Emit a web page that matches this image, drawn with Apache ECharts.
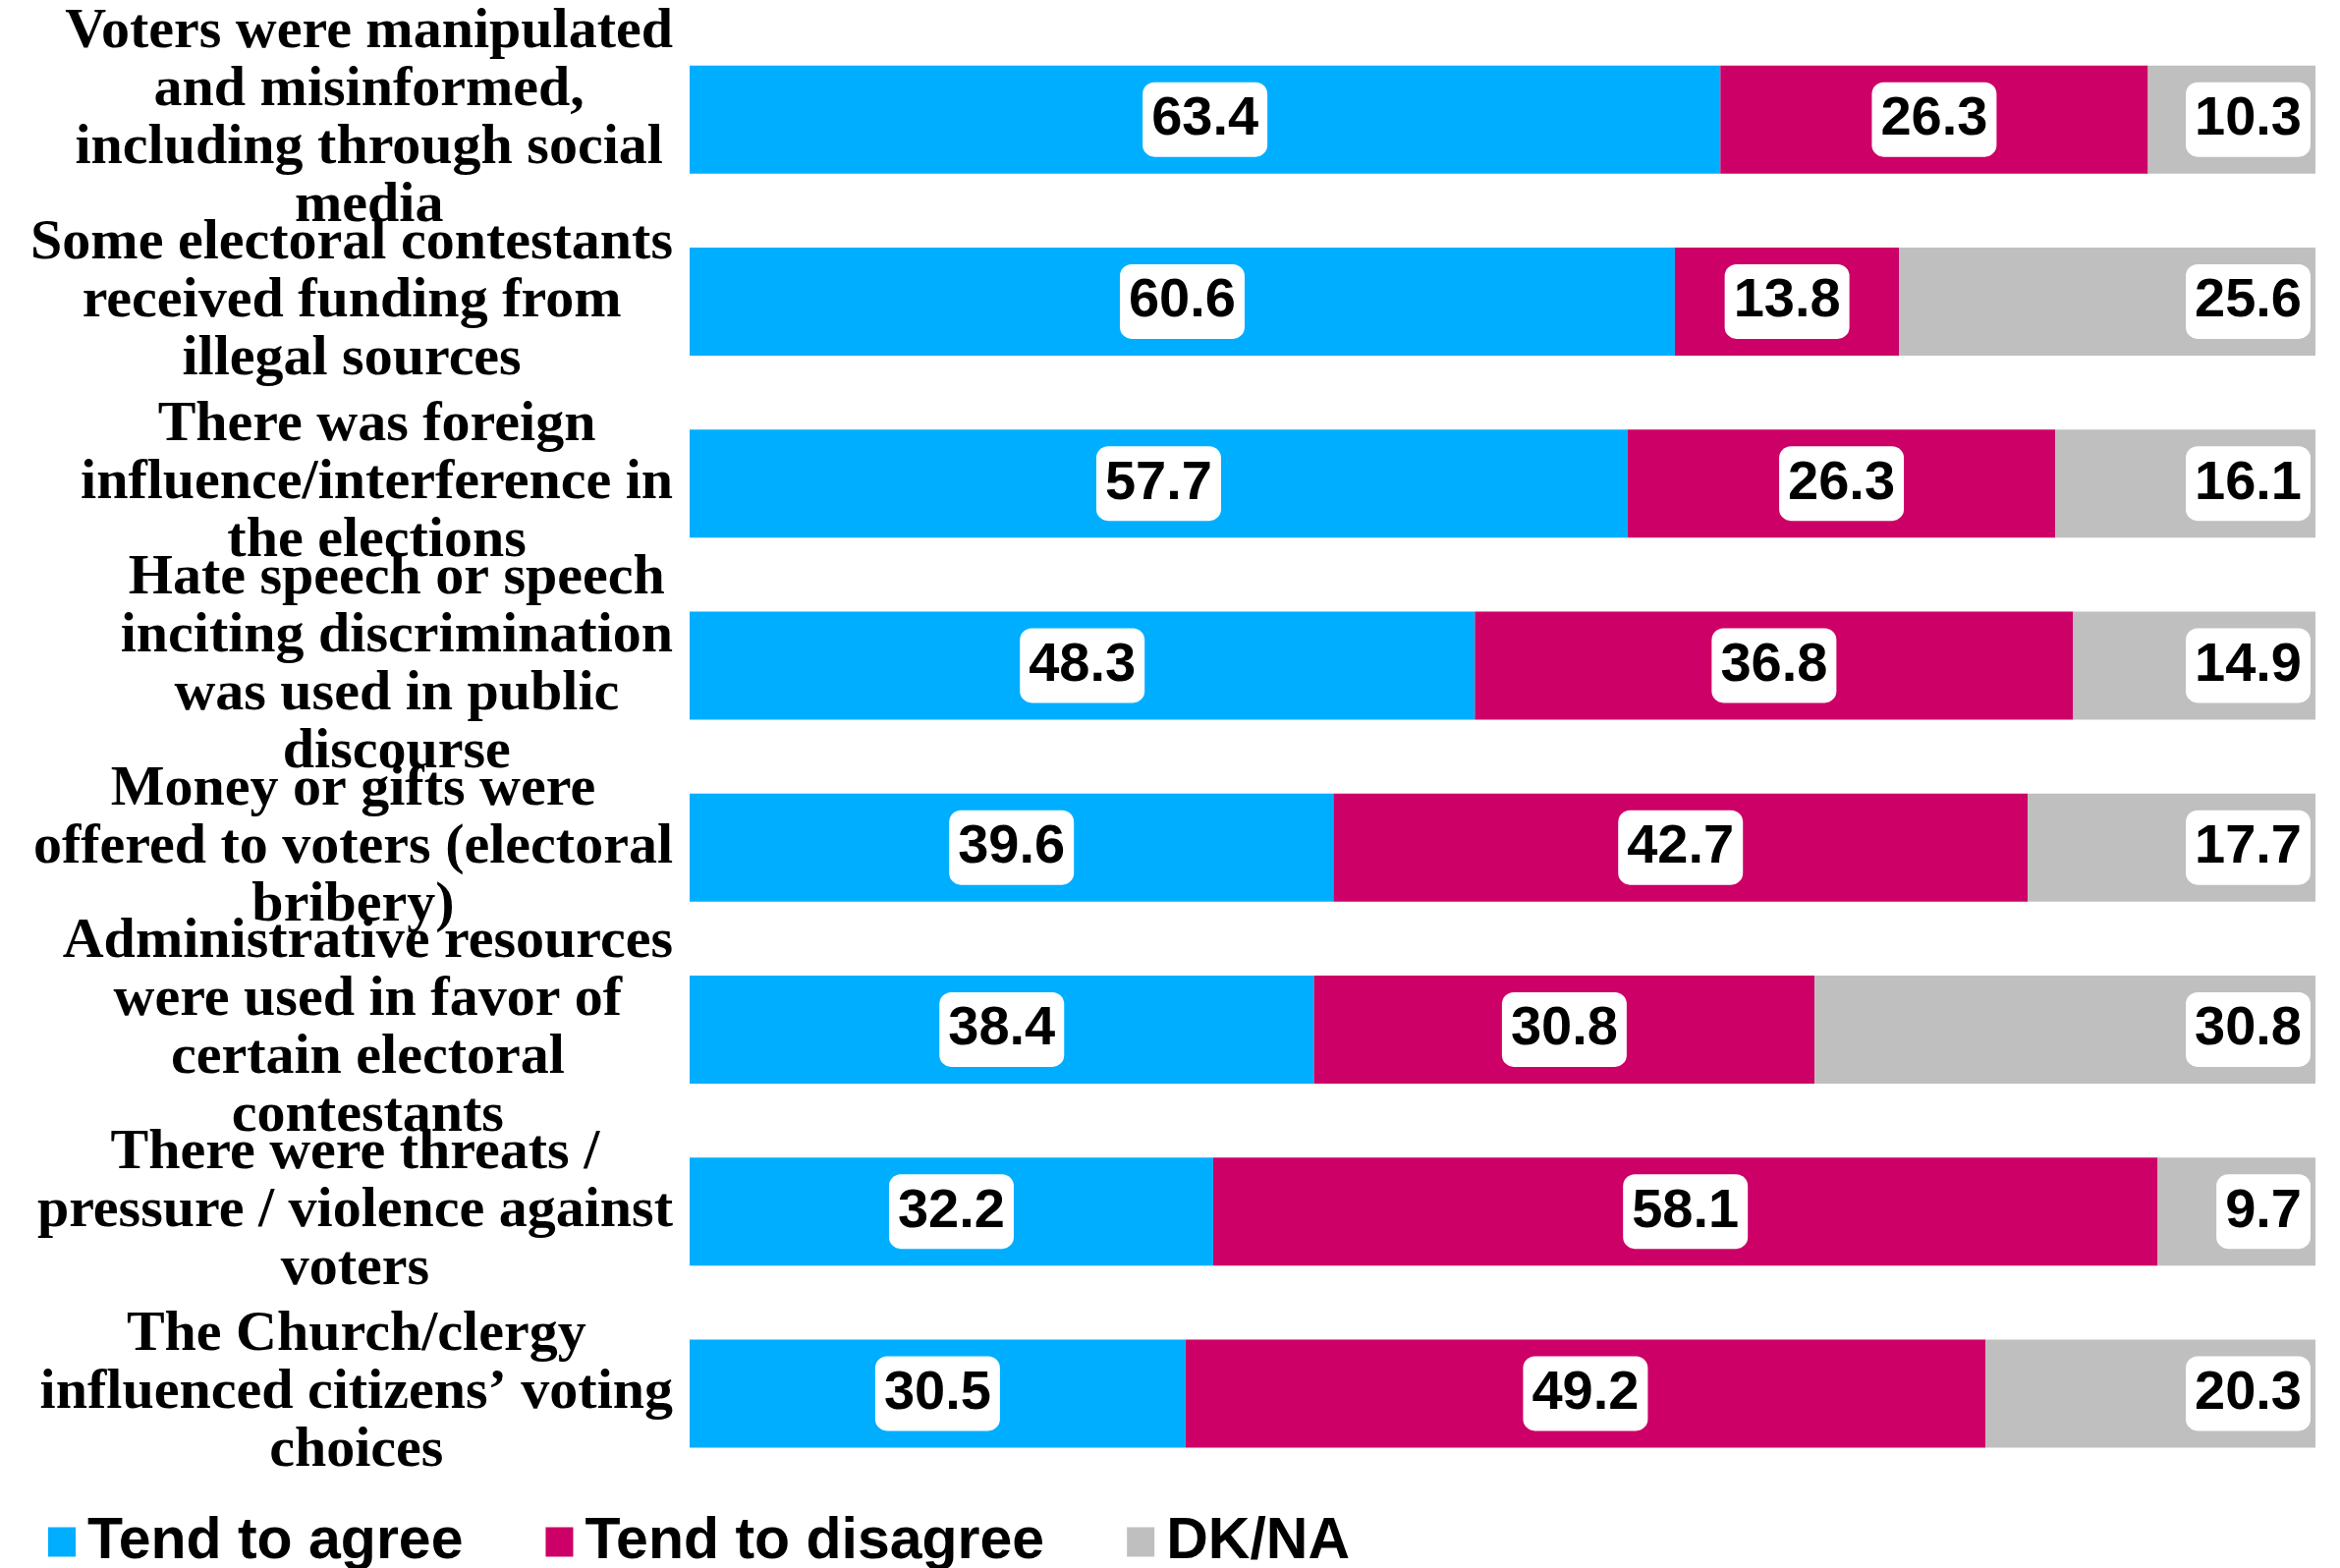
<!DOCTYPE html>
<html>
<head>
<meta charset="utf-8">
<script src="https://cdn.jsdelivr.net/npm/echarts@6/dist/echarts.min.js"></script>
<style>
  html, body { margin: 0; padding: 0; background: #fff; }
  #chart { width: 2382px; height: 1596px; }
</style>
</head>
<body>
<div id="chart"></div>
<script>
// survey statements, top to bottom
const categories = [
    'Voters were manipulated\nand misinformed,\nincluding through social\nmedia',
    'Some electoral contestants\nreceived funding from\nillegal sources',
    'There was foreign\ninfluence/interference in\nthe elections',
    'Hate speech or speech\ninciting discrimination\nwas used in public\ndiscourse',
    'Money or gifts were\noffered to voters (electoral\nbribery)',
    'Administrative resources\nwere used in favor of\ncertain electoral\ncontestants',
    'There were threats /\npressure / violence against\nvoters',
    'The Church/clergy\ninfluenced citizens\u2019 voting\nchoices'
]
const agree = [63.4, 60.6, 57.7, 48.3, 39.6, 38.4, 32.2, 30.5]
const disagree = [26.3, 13.8, 26.3, 36.8, 42.7, 30.8, 58.1, 49.2]
const dkna = [10.3, 25.6, 16.1, 14.9, 17.7, 30.8, 9.7, 20.3]
const seriesNames = ['Tend to agree', 'Tend to disagree', 'DK/NA']
const colors = ['#00AEFF', '#CC0066', '#BFBFBF']

const valueLabel = (pos) => ({
    show: true,
    position: pos,
    distance: 5,
    formatter: (p) => p.value.toFixed(1),
    fontFamily: 'Liberation Sans, Arial, sans-serif',
    fontWeight: 'bold',
    fontSize: 56,
    color: '#000',
    backgroundColor: '#fff',
    borderRadius: 12,
    padding: [12, 9, 8, 9]
})

const makeSeries = (name, data, color, pos) => ({
    name: name,
    type: 'bar',
    stack: 'total',
    data: data,
    barWidth: 110,
    itemStyle: { color: color },
    label: valueLabel(pos),
    emphasis: { disabled: true }
})

const initChart = () => {
    const myChart = echarts.init(document.getElementById('chart'))
    const option = {
        animation: false,
        color: colors,
        grid: { left: 702, right: 25, top: 29, bottom: 85, containLabel: false },
        xAxis: {
            type: 'value',
            min: 0,
            max: 100,
            show: false
        },
        yAxis: {
            type: 'category',
            inverse: true,
            data: categories,
            axisLine: { show: false },
            axisTick: { show: false },
            axisLabel: {
                margin: 17,
                interval: 0,
                showMinLabel: true,
                showMaxLabel: true,
                hideOverlap: false,
                formatter: (v) => v.split('\n').map(l => '{a|' + l + '}').join('\n'),
                rich: {
                    a: {
                        align: 'center',
                        fontFamily: 'Liberation Serif, Times New Roman, serif',
                        fontWeight: 'bold',
                        fontSize: 58,
                        lineHeight: 59,
                        color: '#000'
                    }
                }
            }
        },
        legend: {
            left: 44,
            top: 1535,
            itemWidth: 28,
            itemHeight: 30,
            itemGap: 84,
            icon: 'rect',
            data: seriesNames,
            textStyle: {
                fontFamily: 'Liberation Sans, Arial, sans-serif',
                fontWeight: 'bold',
                fontSize: 59,
                color: '#000',
                padding: [0, 0, 0, 7]
            }
        },
        series: [
            makeSeries(seriesNames[0], agree, colors[0], 'inside'),
            makeSeries(seriesNames[1], disagree, colors[1], 'inside'),
            makeSeries(seriesNames[2], dkna, colors[2], 'insideRight')
        ]
    }
    myChart.setOption(option)
}

window.addEventListener('load', () => {
    initChart()
})
</script>
</body>
</html>
